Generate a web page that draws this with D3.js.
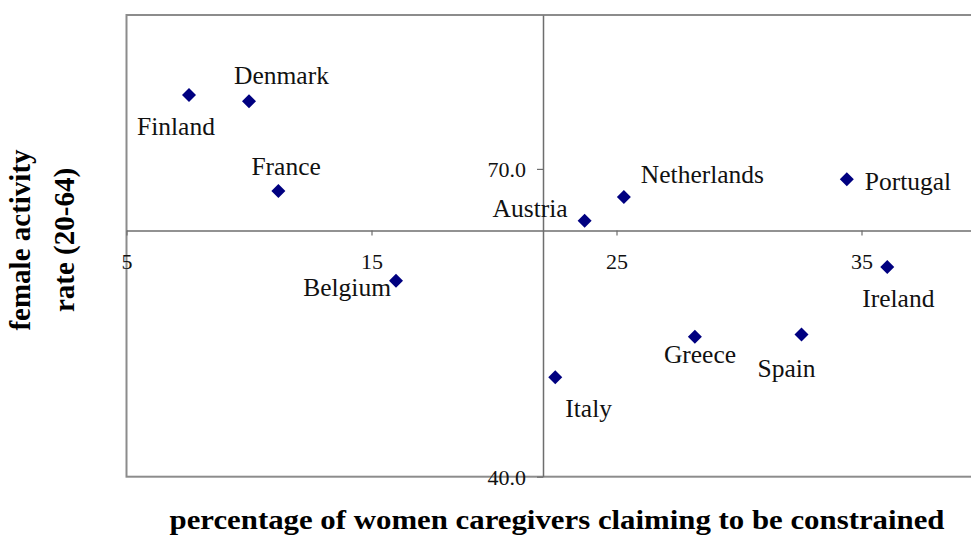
<!DOCTYPE html>
<html>
<head>
<meta charset="utf-8">
<script src="https://cdn.jsdelivr.net/npm/d3@7"></script>
<style>
  body { margin: 0; background: #fff; }
  svg text { font-family: "Liberation Serif", "Times New Roman", "DejaVu Serif", serif; }
</style>
</head>
<body>
<svg id="chart" width="971" height="538"></svg>
<script>
// data
const countries = ["Finland", "Denmark", "France", "Belgium", "Austria", "Netherlands",
                   "Portugal", "Ireland", "Italy", "Greece", "Spain"];
// percentage of women caregivers claiming to be constrained
const constrained = [7.55, 10.0, 11.2, 16.0, 23.7, 25.3, 34.4, 36.05, 22.5, 28.2, 32.55];
// female activity rate (20-64)
const activity = [77.2, 76.6, 67.85, 59.1, 64.95, 67.25, 69.0, 60.45, 49.7, 53.65, 53.85];

const xTicks = [5, 15, 25, 35];
const yTicks = [40, 70];

// where each label sits relative to its marker (anchor, dx, dy)
const labelPos = {
    Finland:     ["start", -52, 40],
    Denmark:     ["start", -15, -17],
    France:      ["start", -27, -16],
    Belgium:     ["end", -5, 15],
    Austria:     ["end", -17, -4],
    Netherlands: ["start", 17, -14],
    Portugal:    ["start", 18, 11],
    Ireland:     ["start", -25, 40],
    Italy:       ["start", 10, 40],
    Greece:      ["start", -31, 26],
    Spain:       ["start", -44, 42]
};

const FONT = "'Liberation Serif', 'Times New Roman', 'DejaVu Serif', serif";
const svg = d3.select("#chart");

const plotLeft = 126.5, plotTop = 15, plotBottom = 476.7;
const x = d3.scaleLinear().domain([5, 40]).range([plotLeft, plotLeft + 35 * 24.5]);
const y = d3.scaleLinear().domain([40, 85]).range([plotBottom, plotTop]);

// plot frame
svg.append("rect")
    .attr("x", x(5)).attr("y", y(85))
    .attr("width", x(40) - x(5)).attr("height", y(40) - y(85))
    .attr("fill", "none")
    .attr("stroke", "#8c8c8c")
    .attr("stroke-width", 2);

// x axis crosses at 64, y axis crosses at 22
const xAxis = svg.append("g")
    .attr("transform", `translate(0,${y(64)})`)
    .call(d3.axisBottom(x).tickValues(xTicks).tickSize(5).tickSizeOuter(0).tickFormat(d3.format("d")));

const yAxis = svg.append("g")
    .attr("transform", `translate(${x(22)},0)`)
    .call(d3.axisLeft(y).tickValues(yTicks).tickSize(6).tickSizeOuter(0).tickFormat(d3.format(".1f")));

[xAxis, yAxis].forEach(g => {
    g.attr("font-family", FONT);
    g.select(".domain").attr("stroke", "#6e6e6e").attr("stroke-width", 1.5);
    g.selectAll(".tick line").attr("stroke", "#6e6e6e").attr("stroke-width", 1.2);
    g.selectAll("text")
        .style("font-family", FONT)
        .attr("font-size", 22)
        .attr("fill", "#111");
});
xAxis.selectAll("text").attr("y", 38.5).attr("dy", null);
yAxis.selectAll("text").attr("x", -17).attr("y", 7.5).attr("dy", null);

// markers
const diamond = d3.symbol().type(d3.symbolSquare).size(98);
const pts = countries.map((c, i) => ({ name: c, px: x(constrained[i]), py: y(activity[i]) }));

svg.append("g").selectAll("path")
    .data(pts)
    .join("path")
    .attr("d", diamond)
    .attr("transform", d => `translate(${d.px},${d.py}) rotate(45)`)
    .attr("fill", "#000080");

svg.append("g").selectAll("text")
    .data(pts)
    .join("text")
    .style("font-family", FONT)
    .attr("x", d => d.px + labelPos[d.name][1])
    .attr("y", d => d.py + labelPos[d.name][2])
    .attr("text-anchor", d => labelPos[d.name][0])
    .attr("font-size", 25.5)
    .attr("fill", "#111")
    .text(d => d.name);

// axis titles
svg.append("text")
    .style("font-family", FONT)
    .attr("x", 557).attr("y", 529)
    .attr("text-anchor", "middle")
    .attr("font-size", 28)
    .attr("font-weight", "bold")
    .attr("textLength", 775)
    .attr("lengthAdjust", "spacingAndGlyphs")
    .text("percentage of women caregivers claiming to be constrained");

const yTitle = svg.append("text")
    .style("font-family", FONT)
    .attr("transform", "translate(0,240) rotate(-90)")
    .attr("text-anchor", "middle")
    .attr("font-size", 29)
    .attr("font-weight", "bold");
yTitle.append("tspan").attr("x", 0).attr("y", 30).text("female activity");
yTitle.append("tspan").attr("x", 0).attr("y", 74).text("rate (20-64)");
</script>
</body>
</html>
